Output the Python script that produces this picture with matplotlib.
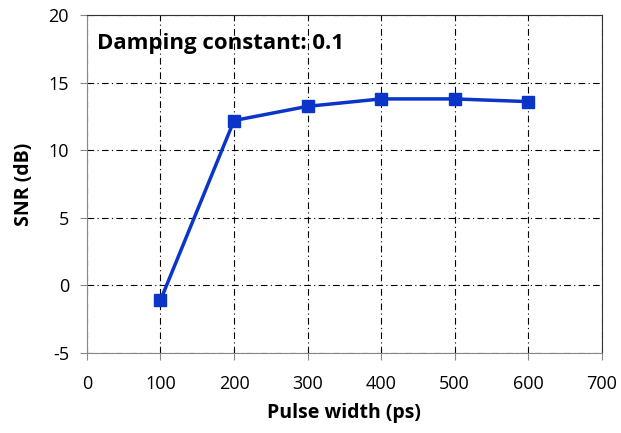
import matplotlib
matplotlib.use("Agg")
import matplotlib.pyplot as plt

pulse_width = [100, 200, 300, 400, 500, 600]
snr = [-1.1, 12.2, 13.25, 13.8, 13.8, 13.6]
x_ticks = [0, 100, 200, 300, 400, 500, 600, 700]
y_ticks = [-5, 0, 5, 10, 15, 20]

plt.rcParams['font.family'] = ['Open Sans', 'DejaVu Sans']
plt.rcParams['axes.unicode_minus'] = False

fig = plt.figure(figsize=(6.21, 4.33), dpi=100)
ax = fig.add_axes([0.140, 0.185, 0.829, 0.780])

ax.plot(pulse_width, snr, color='#0a35c8', lw=2.5, marker='s', ms=8, zorder=3)

ax.set_xlim(0, 700)
ax.set_ylim(-5, 20)
ax.set_xticks(x_ticks)
ax.set_yticks(y_ticks)
ax.grid(True, color='black', linestyle='-.', linewidth=0.8, dashes=(6, 3, 1, 3))
ax.tick_params(axis='both', labelsize=13, direction='out', length=5, color='#888888')
ax.tick_params(axis='x', pad=11)
ax.tick_params(axis='y', pad=8)
for s in ['left', 'bottom']:
    ax.spines[s].set_color('#888888')
for s in ['top', 'right']:
    ax.spines[s].set_color('#333333')

ax.set_xlabel('Pulse width (ps)', fontsize=14, fontweight='bold', labelpad=7)
ax.set_ylabel('SNR (dB)', fontsize=14, fontweight='bold', labelpad=10)
ax.text(0.020, 0.900, 'Damping constant: 0.1', transform=ax.transAxes,
        fontsize=16, fontweight='bold', color='black')

fig.savefig('out.png', dpi=100, facecolor='white')
